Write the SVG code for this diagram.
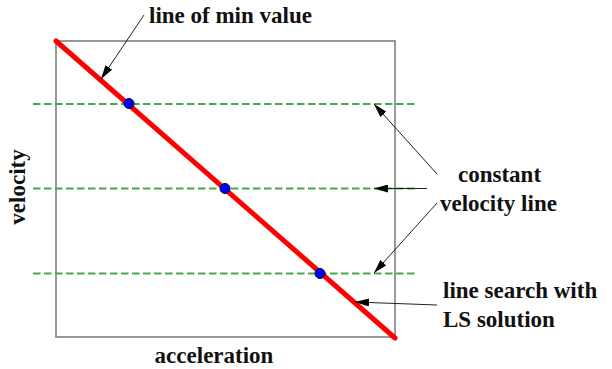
<svg xmlns="http://www.w3.org/2000/svg" width="612" height="369" viewBox="0 0 612 369">
<style>
.lbl{font-family:"Liberation Serif","Times New Roman",serif;font-weight:bold;font-size:23px;fill:#111}
.dash{stroke:#44aa44;stroke-width:2;stroke-dasharray:7.5 3.5;fill:none}
.arr{stroke:#222;stroke-width:1;fill:none;marker-end:url(#ah)}
.dot{fill:#0000ff;stroke:#000033;stroke-width:1}
</style>
<defs>
<marker id="ah" viewBox="0 0 14 8" refX="14" refY="4" markerWidth="14" markerHeight="8" markerUnits="userSpaceOnUse" orient="auto">
<path d="M0,0 L14,4 L0,8 Z" fill="#000"/>
</marker>
</defs>
<rect width="612" height="369" fill="#fff"/>
<g id="frame">
<rect x="56" y="41" width="339" height="296" fill="none" stroke="#777" stroke-width="1.5"/>
</g>
<g id="const-lines">
<line class="dash" x1="33" y1="104" x2="417" y2="104"/>
<line class="dash" x1="33" y1="188.5" x2="417" y2="188.5"/>
<line class="dash" x1="33" y1="273.5" x2="417" y2="273.5"/>
</g>
<g id="min-line">
<line x1="56" y1="41" x2="395" y2="338" stroke="#ff0000" stroke-width="5" stroke-linecap="round"/>
</g>
<g id="points">
<circle class="dot" cx="129" cy="103.5" r="5"/>
<circle class="dot" cx="225" cy="188.5" r="5"/>
<circle class="dot" cx="320" cy="273.5" r="5"/>
</g>
<g id="connectors">
<line class="arr" x1="144" y1="15" x2="101" y2="79"/>
<line class="arr" x1="437" y1="174" x2="374" y2="104"/>
<line class="arr" x1="427" y1="188.5" x2="374" y2="188.5"/>
<line class="arr" x1="437" y1="203" x2="374" y2="273"/>
<line class="arr" x1="437" y1="305" x2="355" y2="302"/>
</g>
<g id="labels">
<text class="lbl" x="149" y="23">line of min value</text>
<text class="lbl" x="458" y="182">constant</text>
<text class="lbl" x="440" y="211">velocity line</text>
<text class="lbl" x="443" y="298">line search with</text>
<text class="lbl" x="443" y="327">LS solution</text>
<text class="lbl" x="214" y="363" text-anchor="middle">acceleration</text>
<text class="lbl" transform="translate(25,187) rotate(-90)" text-anchor="middle">velocity</text>
</g>
</svg>
